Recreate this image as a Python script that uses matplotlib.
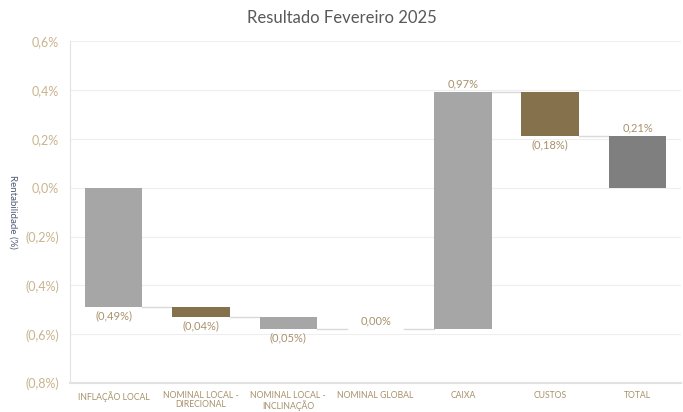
import numpy as np
import matplotlib
matplotlib.use('Agg')
import matplotlib.pyplot as plt
from matplotlib.ticker import FuncFormatter

plt.rcParams['font.family'] = ['Lato', 'DejaVu Sans']

categories = ['INFLAÇÃO LOCAL', 'NOMINAL LOCAL -\nDIRECIONAL', 'NOMINAL LOCAL -\nINCLINAÇÃO',
              'NOMINAL GLOBAL', 'CAIXA', 'CUSTOS', 'TOTAL']
values = [-0.49, -0.04, -0.05, 0.00, 0.97, -0.18]
total = 0.21

gray = '#a6a6a6'
brown = '#85724d'
dark = '#7f7f7f'
tick_col = '#c9b48f'
lab_col = '#a8916b'

def fmt(v):
    s = '{:.2f}%'.format(abs(v)).replace('.', ',')
    return '(' + s + ')' if v < 0 else s

fig = plt.figure(figsize=(6.83, 4.12), dpi=100)
ax = fig.add_axes([0.1025, 0.07, 0.895, 0.8305])

width = 0.66
x = np.arange(len(categories))
cum = np.concatenate([[0], np.cumsum(values)])
bar_colors = [gray, brown, gray, gray, gray, brown]

for i, v in enumerate(values):
    ax.bar(x[i], v, width, bottom=cum[i], color=bar_colors[i], zorder=3)
    if v < 0:
        ax.text(x[i], cum[i + 1] - 0.012, fmt(v), ha='center', va='top', fontsize=8, color=lab_col)
    else:
        ax.text(x[i], max(cum[i], cum[i + 1]) + 0.012, fmt(v), ha='center', va='bottom', fontsize=8, color=lab_col)
    # connector to next bar
    ax.plot([x[i] + width / 2, x[i + 1] - width / 2], [cum[i + 1], cum[i + 1]],
             color='#d9d9d9', lw=1, zorder=2)

ax.bar(x[-1], total, width, color=dark, zorder=3)
ax.text(x[-1], total + 0.012, fmt(total), ha='center', va='bottom', fontsize=8, color=lab_col)

ax.set_ylim(-0.8, 0.6)
ax.set_xlim(-0.5, len(categories) - 0.5)
ax.set_yticks(np.arange(-0.8, 0.61, 0.2))

def yfmt(v, p):
    s = '{:.1f}%'.format(abs(v)).replace('.', ',')
    return '(' + s + ')' if v < -1e-9 else s

ax.yaxis.set_major_formatter(FuncFormatter(yfmt))
ax.tick_params(axis='y', colors=tick_col, labelsize=9, length=0, pad=8)
ax.set_xticks(x)
ax.set_xticklabels(categories, fontsize=6.2, color=lab_col, linespacing=1.0)
ax.tick_params(axis='x', length=0, pad=6)

ax.grid(axis='y', color='#eeeeee', lw=0.8, zorder=0)
for s in ['top', 'right']:
    ax.spines[s].set_visible(False)
ax.spines['left'].set_color('#e2e2e2')
ax.spines['bottom'].set_color('#e2e2e2')
ax.spines['bottom'].set_linewidth(1.5)

ax.set_ylabel('Rentabilidade (%)', fontsize=7, color='#4f5b75', rotation=270, labelpad=0)
ax.yaxis.set_label_coords(-0.1, 0.5)

fig.suptitle('Resultado Fevereiro 2025', fontsize=12, color='#595959', y=0.975)

fig.savefig('out.png', dpi=100)
